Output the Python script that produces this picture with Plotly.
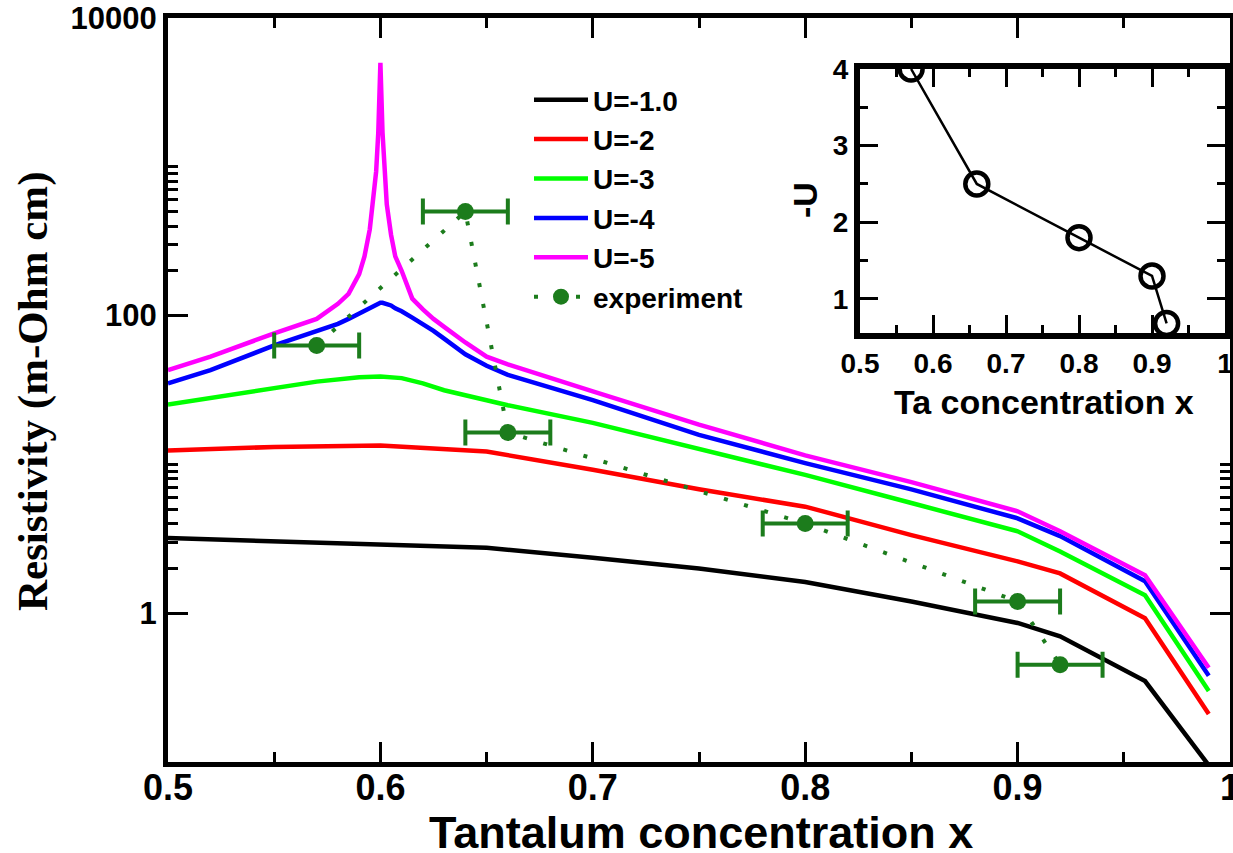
import plotly.graph_objects as go

# ---------------- main panel data ----------------
# concentration grids used by the model curves
x_coarse = [0.5, 0.55, 0.6, 0.65, 0.7, 0.75, 0.8, 0.85, 0.9, 0.92, 0.96, 0.99]
x_green = [0.5, 0.52, 0.55, 0.57, 0.59, 0.6, 0.61, 0.62, 0.63, 0.64, 0.65, 0.66,
           0.7, 0.75, 0.8, 0.85, 0.9, 0.92, 0.96, 0.99]
x_fine = [0.5, 0.52, 0.55, 0.57, 0.58, 0.585, 0.59, 0.5925, 0.595, 0.597, 0.598,
          0.599, 0.6, 0.601, 0.602, 0.603, 0.605, 0.607, 0.61, 0.615, 0.62, 0.625,
          0.63, 0.64, 0.65, 0.66, 0.7, 0.75, 0.8, 0.85, 0.9, 0.92, 0.96, 0.99]

# resistivity (m-Ohm cm) for each interaction strength U
rho_u1 = [3.2, 3.05, 2.88, 2.75, 2.36, 2.0, 1.62, 1.2, 0.86, 0.70, 0.35, 0.095]
rho_u2 = [12.4, 13.1, 13.4, 12.2, 9.2, 6.8, 5.2, 3.35, 2.23, 1.85, 0.925, 0.21]
rho_u3 = [25.3, 28, 32.5, 36, 38.5, 39, 38, 35, 31.5, 29, 27, 25,
          19, 12.8, 8.5, 5.5, 3.55, 2.6, 1.32, 0.30]
rho_u4 = [35, 43, 63, 78, 88, 95, 103, 108, 113, 117, 119,
          121, 122, 122, 121, 120, 117, 112, 107, 97, 88, 79,
          70, 55, 46, 40, 27, 15.8, 10.2, 6.8, 4.34, 3.3, 1.64, 0.38]
rho_u5 = [43, 53, 76, 95, 120, 140, 190, 250, 380, 650, 930,
          1700, 5000, 1700, 830, 560, 350, 250, 200, 130, 110, 95,
          84, 66, 53, 47, 31, 18.5, 11.5, 7.6, 4.84, 3.55, 1.8, 0.43]

series_names = ["U=-1.0", "U=-2", "U=-3", "U=-4", "U=-5"]
series_colors = ["#000000", "#ff0000", "#00ff00", "#0000ff", "#ff00ff"]

# measured resistivity with concentration uncertainty
x_exp = [0.57, 0.64, 0.66, 0.8, 0.9, 0.92]
rho_exp = [63, 500, 16.4, 4.0, 1.2, 0.45]
x_exp_err = [0.02, 0.02, 0.02, 0.02, 0.02, 0.02]

# ---------------- inset data ----------------
x_inset = [0.57, 0.66, 0.8, 0.9, 0.92]
minus_u_inset = [4.0, 2.5, 1.8, 1.3, 0.68]

# main y-axis ticks
y_major = [1, 100, 10000]
y_major_text = ["1", "100", "10000"]
y_minor = [2, 3, 4, 5, 6, 7, 8, 9, 10, 200, 300, 400, 500, 600, 700, 800, 900, 1000]

W, H = 1233, 853
SANS = "Liberation Sans, Arial, Helvetica, sans-serif"
SERIF = "Liberation Serif, Times New Roman, serif"
EXP_GREEN = "#1c7c1c"

fig = go.Figure()

curve_x = [x_coarse, x_coarse, x_green, x_fine, x_fine]
curve_y = [rho_u1, rho_u2, rho_u3, rho_u4, rho_u5]
for xs, ys, name, col in zip(curve_x, curve_y, series_names, series_colors):
    fig.add_trace(go.Scatter(
        x=xs, y=ys, name=name, mode="lines",
        line=dict(color=col, width=4.5),
        xaxis="x", yaxis="y",
    ))

fig.add_trace(go.Scatter(
    x=x_exp, y=rho_exp, name="experiment", mode="lines+markers",
    line=dict(color=EXP_GREEN, width=4, dash="4px,17px"),
    marker=dict(color=EXP_GREEN, size=17, symbol="circle"),
    error_x=dict(type="data", array=x_exp_err, color=EXP_GREEN,
                 thickness=4, width=13),
    xaxis="x", yaxis="y",
))

fig.add_trace(go.Scatter(
    x=x_inset, y=minus_u_inset, mode="lines+markers", showlegend=False,
    line=dict(color="black", width=2.5),
    marker=dict(symbol="circle-open", size=23, color="black",
                line=dict(color="black", width=4.5)),
    xaxis="x2", yaxis="y2",
))

frame = dict(showline=True, linecolor="black", mirror="ticks", automargin=False,
             ticks="inside", tickcolor="black", showgrid=False, zeroline=False)

fig.update_layout(
    width=W, height=H,
    margin=dict(l=0, r=0, t=0, b=0, autoexpand=False),
    paper_bgcolor="white", plot_bgcolor="white",
    showlegend=True,
    legend=dict(
        x=529 / W, y=1 - 75 / H, xanchor="left", yanchor="top",
        bgcolor="rgba(0,0,0,0)", borderwidth=0,
        font=dict(family=SANS, size=28, color="black", weight="bold"),
        itemwidth=54, tracegroupgap=0,
    ),
    xaxis=dict(
        domain=[168 / W, 1230 / W], range=[0.5, 1.0], anchor="y",
        tickvals=[0.5, 0.6, 0.7, 0.8, 0.9, 1.0],
        ticktext=["0.5", "0.6", "0.7", "0.8", "0.9", "1"],
        ticklabeloverflow="allow", ticklabelstandoff=-10,
        linewidth=5, ticklen=20, tickwidth=3,
        tickfont=dict(family=SANS, size=36, color="black", weight="bold"),
        minor=dict(tickvals=[0.55, 0.65, 0.75, 0.85, 0.95], ticks="inside",
                   ticklen=10, tickwidth=3, tickcolor="black"),
        **frame,
    ),
    yaxis=dict(
        domain=[1 - 762 / H, 1 - 18 / H], type="log", range=[-1, 4], anchor="x",
        tickvals=y_major, ticktext=y_major_text,
        linewidth=5, ticklen=20, tickwidth=3,
        tickfont=dict(family=SANS, size=31, color="black", weight="bold"),
        minor=dict(tickvals=y_minor, ticks="inside",
                   ticklen=10, tickwidth=3, tickcolor="black"),
        **frame,
    ),
    xaxis2=dict(
        domain=[860 / W, 1225 / W], range=[0.5, 1.0], anchor="y2",
        tickvals=[0.5, 0.6, 0.7, 0.8, 0.9, 1.0],
        ticktext=["0.5", "0.6", "0.7", "0.8", "0.9", "1"],
        linewidth=6, ticklen=18, tickwidth=3,
        tickfont=dict(family=SANS, size=28, color="black", weight="bold"),
        minor=dict(tickvals=[0.55, 0.65, 0.75, 0.85, 0.95], ticks="inside",
                   ticklen=8, tickwidth=3, tickcolor="black"),
        **frame,
    ),
    yaxis2=dict(
        domain=[1 - 333 / H, 1 - 69 / H], range=[0.556, 4.0], anchor="x2",
        tickvals=[1, 2, 3, 4],
        linewidth=6, ticklen=18, tickwidth=3,
        tickfont=dict(family=SANS, size=28, color="black", weight="bold"),
        minor=dict(tickvals=[1.5, 2.5, 3.5], ticks="inside",
                   ticklen=8, tickwidth=3, tickcolor="black"),
        **frame,
    ),
    annotations=[
        dict(text="Tantalum concentration x", xref="paper", yref="paper",
             x=701 / W, y=1 - 832 / H, xanchor="center", yanchor="middle",
             showarrow=False,
             font=dict(family=SANS, size=45, color="black", weight="bold")),
        dict(text="Resistivity (m-Ohm cm)", xref="paper", yref="paper",
             x=33 / W, y=1 - 392 / H, xanchor="center", yanchor="middle",
             textangle=-90, showarrow=False,
             font=dict(family=SERIF, size=43, color="black", weight="bold")),
        dict(text="Ta concentration x", xref="paper", yref="paper",
             x=1044 / W, y=1 - 402 / H, xanchor="center", yanchor="middle",
             showarrow=False,
             font=dict(family=SANS, size=34, color="black", weight="bold")),
        dict(text="-U", xref="paper", yref="paper",
             x=805 / W, y=1 - 200 / H, xanchor="center", yanchor="middle",
             textangle=-90, showarrow=False,
             font=dict(family=SANS, size=34, color="black", weight="bold")),
    ],
)

fig.write_html("out.html")
